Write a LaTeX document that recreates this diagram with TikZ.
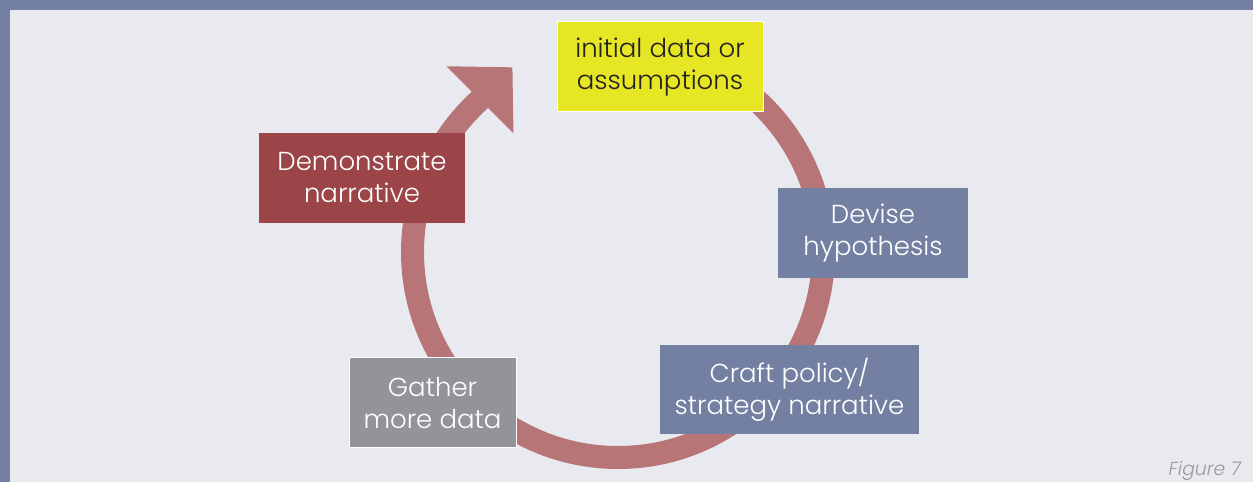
\documentclass[tikz,border=0pt]{standalone}
\usepackage{fontspec}
\setmainfont{Poppins}[UprightFont=* Light,ItalicFont=* Light Italic]
\usepackage{xcolor}
\usetikzlibrary{arrows.meta}
\definecolor{slate}{HTML}{7380A2}
\definecolor{paper}{HTML}{E9EAEF}
\definecolor{rose}{HTML}{B77577}
\definecolor{lemon}{HTML}{E6E624}
\definecolor{brick}{HTML}{9C4548}
\definecolor{stone}{HTML}{939498}
\definecolor{ink}{HTML}{222222}
\definecolor{figgrey}{HTML}{9A9A9A}

\tikzset{
  stepbox/.style={rectangle,align=center,inner sep=0pt,minimum height=45pt,
    font=\fontsize{13}{16}\selectfont,text=white},
  framed/.style={draw=white,line width=0.5pt},
}

\begin{document}
\begin{tikzpicture}[x=0.5pt,y=0.5pt,
  ring/.style={draw=rose,line width=11.5pt,-{Triangle[length=23pt,width=46pt]}}]
	% frame and background
	\fill[slate] (0,0) rectangle (1253,482);
	\fill[paper] (10,0) rectangle (1253,472);
	\useasboundingbox (0,0) rectangle (1253,482);
	\coordinate (c) at (618,230);

	% the cycle
	\draw[ring] ([shift={(90:205.5)}]c) arc[start angle=90,end angle=-227.8,radius=205.5] -- ++(45:46);

	\node[stepbox,framed,fill=lemon,text=ink,minimum width=103pt] (init) at (660,415) {initial data or\\assumptions};
	\node[stepbox,fill=slate,minimum width=95pt] (devise) at (873,249) {Devise\\hypothesis};
	\node[stepbox,fill=slate,minimum width=129.5pt,minimum height=44.5pt] (craft) at (789.5,92.5) {Craft policy/\\strategy narrative};
	\node[stepbox,framed,fill=stone,minimum width=83.5pt] (gather) at (432.5,79) {Gather\\more data};
	\node[stepbox,fill=brick,minimum width=103pt] (demo) at (362,304) {Demonstrate\\narrative};

	\node[font=\fontsize{9.4}{11}\selectfont\itshape,text=figgrey,anchor=base east] (fig) at (1248,7) {Figure 7};
\end{tikzpicture}
\end{document}
